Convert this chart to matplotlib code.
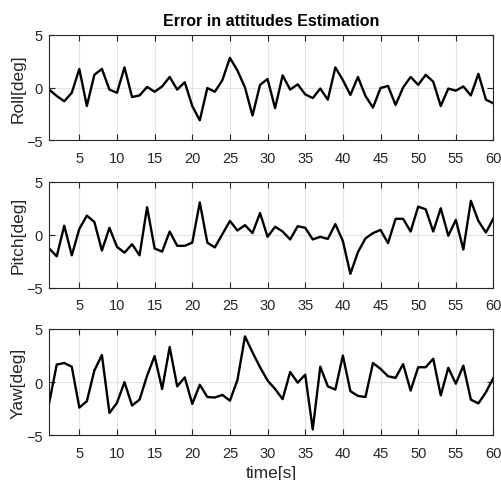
import numpy as np
import matplotlib
matplotlib.use("Agg")
import matplotlib.pyplot as plt

plt.rcParams['font.family'] = ['Liberation Sans', 'DejaVu Sans']

t = list(range(1, 61))
roll = [-0.2, -0.8, -1.3, -0.5, 1.75, -1.75, 1.2, 1.75, -0.2, -0.5,
        1.9, -0.9, -0.75, 0.05, -0.4, 0.1, 1.0, -0.2, 0.5, -1.75,
        -3.1, -0.05, -0.4, 0.7, 2.8, 1.6, 0.0, -2.65, 0.25, 0.8,
        -1.95, 1.15, -0.2, 0.3, -0.65, -1.0, -0.1, -1.15, 1.9, 0.7,
        -0.7, 1.0, -0.8, -1.9, -0.05, 0.15, -1.65, 0.0, 1.0, 0.25,
        1.2, 0.55, -1.75, -0.1, -0.3, 0.1, -0.75, 1.3, -1.15, -1.5]
pitch = [-1.3, -2.05, 0.85, -1.95, 0.55, 1.8, 1.2, -1.5, 0.65, -1.15,
         -1.7, -0.9, -1.95, 2.6, -1.3, -1.6, 0.3, -1.05, -1.05, -0.75,
         3.05, -0.75, -1.2, 0.05, 1.3, 0.4, 0.9, 0.15, 2.05, -0.2,
         0.75, 0.3, -0.45, 0.8, 0.65, -0.45, -0.2, -0.4, 1.0, -0.6,
         -3.7, -1.65, -0.35, 0.15, 0.45, -0.8, 1.5, 1.5, 0.3, 2.65,
         2.4, 0.3, 2.5, -0.1, 1.4, -1.4, 3.2, 1.3, 0.2, 1.55]
yaw = [-1.95, 1.65, 1.8, 1.45, -2.4, -1.8, 1.1, 2.55, -2.9, -1.95,
       0.0, -2.2, -1.65, 0.6, 2.45, -0.65, 3.3, -0.4, 0.45, -2.05,
       -0.25, -1.4, -1.45, -1.2, -1.75, 0.2, 4.3, 2.8, 1.4, 0.15,
       -0.65, -1.6, 0.95, -0.05, 0.7, -4.45, 1.45, -0.4, -0.7, 2.5,
       -0.85, -1.3, -1.4, 1.8, 1.25, 0.55, 0.4, 1.7, -0.8, 1.4,
       1.4, 2.2, -1.25, 1.35, -0.15, 1.55, -1.65, -2.0, -0.95, 0.4]

series = [roll, pitch, yaw]
ylabels = ['Roll[deg]', 'Pitch[deg]', 'Yaw[deg]']
xticks = [5, 10, 15, 20, 25, 30, 35, 40, 45, 50, 55, 60]
yticks = [-5, 0, 5]

fig = plt.figure(figsize=(5.02, 4.81), dpi=100)
left, right = 0.098, 0.983
boxes = [(0.706, 0.926), (0.400, 0.620), (0.093, 0.314)]
for i, (b, tp) in enumerate(boxes):
    ax = fig.add_axes([left, b, right - left, tp - b])
    ax.plot(t, series[i], color='black', lw=1.7)
    ax.set_xlim(1, 60)
    ax.set_ylim(-5, 5)
    ax.set_xticks(xticks)
    ax.set_yticks(yticks)
    ax.grid(True, color='#e3e3e3', lw=0.8)
    ax.set_axisbelow(True)
    ax.tick_params(direction='in', top=True, right=True, length=4,
                   width=0.8, labelsize=10.5, colors='#262626')
    ax.tick_params(axis='x', pad=7.5)
    ax.tick_params(axis='y', pad=4.5)
    for s in ax.spines.values():
        s.set_color('#262626')
        s.set_linewidth(0.8)
    ax.set_ylabel(ylabels[i], fontsize=12.5, color='#262626', labelpad=0.5)
    if i == 0:
        ax.set_title('Error in attitudes Estimation', fontsize=11.5,
                     fontweight='bold', pad=7)
    if i == 2:
        ax.set_xlabel('time[s]', fontsize=12.5, color='#262626', labelpad=4)

fig.savefig('out.png', dpi=100)
